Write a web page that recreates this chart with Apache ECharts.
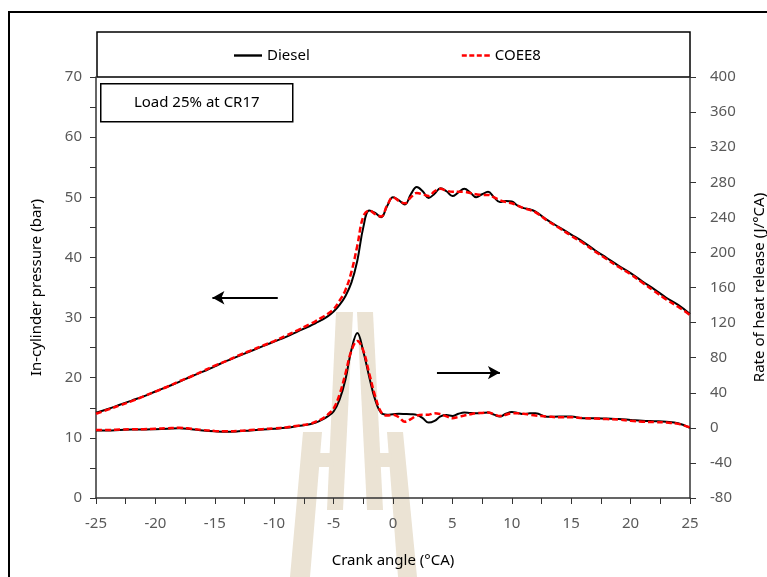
<!DOCTYPE html>
<html>
<head>
<meta charset="utf-8">
<script src="https://cdn.jsdelivr.net/npm/echarts@6/dist/echarts.min.js"></script>
<style>
  html, body { margin: 0; padding: 0; background: #fff; }
  #chart { width: 767px; height: 577px; }
</style>
</head>
<body>
<div id="chart"></div>
<script>
// crank angle (deg CA)
const angle = [
  -25, -24, -23, -22, -21, -20, -19, -18, -17, -16, -15, -14, -13, -12, -11, -10, -9, -8, -7,
  -6.5, -6, -5.5, -5, -4.5, -4, -3.5, -3, -2.5, -2, -1.5, -1, -0.5, 0, 0.5, 1, 1.5, 2, 2.5, 3,
  3.5, 4, 4.5, 5, 5.5, 6, 6.5, 7, 7.5, 8, 8.5, 9, 9.5, 10, 10.5, 11, 11.5, 12,
  13, 14, 15, 16, 17, 18, 19, 20, 21, 22, 23, 24, 25
];

// in-cylinder pressure (bar)
const pressureDiesel = [
  14.2, 14.8, 15.5, 16.2, 16.9, 17.7, 18.5, 19.3, 20.2, 21.0, 21.9, 22.8, 23.6, 24.4, 25.2, 26.0, 26.8, 27.7, 28.6,
  29.1, 29.6, 30.2, 31.0, 32.1, 33.6, 35.8, 39.5, 45.0, 47.8, 47.4, 46.7, 48.5, 50.0, 49.5, 48.8, 50.5, 51.7, 51.0, 49.9,
  50.6, 51.5, 51.0, 50.2, 50.8, 51.4, 50.8, 50.0, 50.5, 50.9, 50.0, 49.2, 49.4, 49.3, 48.6, 48.2, 48.0, 47.6,
  46.2, 45.0, 43.8, 42.6, 41.2, 39.9, 38.6, 37.4, 36.0, 34.7, 33.3, 32.1, 30.6
];
const pressureCOEE8 = [
  14.0, 14.7, 15.4, 16.1, 16.9, 17.7, 18.5, 19.4, 20.2, 21.1, 22.0, 22.8, 23.7, 24.5, 25.3, 26.1, 27.0, 27.9, 28.9,
  29.4, 30.0, 30.6, 31.4, 32.8, 34.6, 37.6, 42.0, 46.8, 47.8, 47.2, 46.8, 48.6, 50.0, 49.4, 49.0, 50.0, 50.7, 50.5, 50.2,
  51.0, 51.4, 51.1, 50.9, 50.9, 50.9, 50.7, 50.5, 50.4, 50.4, 50.0, 49.5, 49.2, 49.0, 48.6, 48.2, 47.9, 47.5,
  46.1, 44.9, 43.6, 42.4, 41.0, 39.7, 38.4, 37.2, 35.8, 34.4, 33.0, 31.8, 30.4
];

// rate of heat release (J/deg CA)
const hrrDiesel = [
  -3, -3, -2.5, -2, -2, -1.5, -1, -0.5, -1.5, -3, -4, -4.5, -4, -3, -2, -1, 0, 2, 4,
  6, 9, 13, 18.6, 32, 55, 89, 108, 87, 58, 32, 17, 15, 15.5, 16, 15.8, 15.5, 14.8, 11, 6,
  8, 13, 14.5, 13.5, 16, 17.5, 17, 16.7, 17, 17.5, 15, 12.9, 16, 18, 17, 15.8, 16.5, 16.7,
  12.5, 12.9, 12.9, 11, 11, 10.5, 10, 9, 8, 7.5, 7, 5.3, 0
];
const hrrCOEE8 = [
  -2.5, -2.5, -2, -1.5, -1.5, -1, -0.5, 0, -1, -2.5, -3.5, -4, -3.5, -2.5, -1.5, -0.5, 0.5, 2.5, 4.5,
  7, 10, 15, 22, 38, 62, 88, 99, 88, 62, 36, 18, 14, 14.8, 12, 7, 10, 14, 15, 15,
  16.7, 15.5, 13, 11, 12.5, 14, 15.5, 16.7, 17, 17.5, 15.5, 13.5, 15, 16.5, 16.5, 16, 15, 14,
  12.9, 12, 12, 11, 10.5, 10, 9.5, 8, 7, 6.5, 6, 4.5, 0.5
];

const font = 'Noto Sans';
const axisColor = '#333';
const labelColor = '#595959';

function pairs(ys) {
  return angle.map((a, i) => [a, ys[i]]);
}

const chart = echarts.init(document.getElementById('chart'));

const wm = '#ebe3d4';
const solidIcon = 'path://M0,0h28v2.4h-28z';
const dashIcon = 'path://M0,0h5v2.4h-5z M7.5,0h5v2.4h-5z M15,0h5v2.4h-5z M22.5,0h5.5v2.4h-5.5z';
chart.setOption({
  animation: false,
  textStyle: { fontFamily: font },
  grid: { left: 96, right: 77, top: 77, bottom: 79, outerBoundsMode: 'none', containLabel: false },
  legend: {
    left: 229,
    top: 43,
    itemWidth: 28,
    itemHeight: 2.4,
    itemGap: 152,
    textStyle: { fontSize: 15, color: '#000', fontFamily: font },
    data: [
      { name: 'Diesel', icon: solidIcon, itemStyle: { color: '#000' } },
      { name: 'COEE8', icon: dashIcon, itemStyle: { color: '#ff0000' } }
    ]
  },
  graphic: [
    { type: 'rect', z: -10, shape: { x: 9, y: 12, width: 800, height: 600 },
      style: { fill: null, stroke: '#000', lineWidth: 2 } },
    { type: 'rect', z: -10, shape: { x: 97, y: 32, width: 593, height: 45 },
      style: { fill: null, stroke: '#000', lineWidth: 1.5 } },
    { type: 'polygon', z: -10, shape: { points: [[336, 312], [353, 312], [343, 510], [327, 510]] }, style: { fill: wm } },
    { type: 'polygon', z: -10, shape: { points: [[357, 312], [373, 312], [383, 510], [367, 510]] }, style: { fill: wm } },
    { type: 'polygon', z: -10, shape: { points: [[303, 432], [322, 432], [310, 577], [290, 577]] }, style: { fill: wm } },
    { type: 'polygon', z: -10, shape: { points: [[387, 432], [403, 432], [417, 577], [398, 577]] }, style: { fill: wm } },
    { type: 'polygon', z: -10, shape: { points: [[318, 453], [334, 453], [333, 467], [316, 467]] }, style: { fill: wm } },
    { type: 'polygon', z: -10, shape: { points: [[376, 453], [391, 453], [392, 467], [377, 467]] }, style: { fill: wm } },
    { type: 'group', left: 100, top: 83, z: 10, children: [
      { type: 'rect', shape: { x: 0, y: 0, width: 192, height: 38 },
        style: { fill: '#fff', stroke: '#000', lineWidth: 1.5 } },
      { type: 'text', x: 96, y: 19,
        style: { text: 'Load 25% at CR17', fontSize: 15, fontFamily: font, fill: '#000',
                 align: 'center', verticalAlign: 'middle' } }
    ] }
  ],
  xAxis: {
    type: 'value',
    min: -25,
    max: 25,
    interval: 5,
    name: 'Crank angle (°CA)',
    nameLocation: 'middle',
    nameGap: 55,
    nameTextStyle: { fontSize: 15, color: '#000' },
    axisLine: { onZero: false, lineStyle: { color: axisColor, width: 1.5 } },
    axisTick: { length: 6, lineStyle: { color: axisColor } },
    minorTick: { show: true, splitNumber: 2, length: 6, lineStyle: { color: axisColor } },
    axisLabel: { fontSize: 15, color: labelColor, margin: 18 },
    splitLine: { show: false }
  },
  yAxis: [
    {
      type: 'value',
      min: 0,
      max: 70,
      interval: 10,
      name: 'In-cylinder pressure (bar)',
      nameLocation: 'middle',
      nameGap: 52,
      nameTextStyle: { fontSize: 15, color: '#000' },
      axisLine: { show: true, onZero: false, lineStyle: { color: axisColor, width: 1.5 } },
      axisTick: { show: true, length: 6, lineStyle: { color: axisColor } },
      minorTick: { show: true, splitNumber: 2, length: 6, lineStyle: { color: axisColor } },
      axisLabel: { fontSize: 15, color: labelColor, margin: 14 },
      splitLine: { show: false }
    },
    {
      type: 'value',
      position: 'right',
      min: -80,
      max: 400,
      interval: 40,
      name: 'Rate of heat release (J/°CA)',
      nameLocation: 'middle',
      nameGap: 62,
      nameRotate: 90,
      nameTextStyle: { fontSize: 15, color: '#000' },
      axisLine: { show: true, onZero: false, lineStyle: { color: axisColor, width: 1.5 } },
      axisTick: { show: true, length: 6, lineStyle: { color: axisColor } },
      axisLabel: { fontSize: 15, color: labelColor, margin: 20 },
      splitLine: { show: false }
    }
  ],
  series: [
    {
      name: 'Diesel', type: 'line', yAxisIndex: 0, smooth: 0.4, symbol: 'none',
      data: pairs(pressureDiesel),
      lineStyle: { color: '#000', width: 2 }, itemStyle: { color: '#000' },
      markLine: {
        silent: true, symbol: ['none', 'arrow'], symbolSize: [10, 12],
        label: { show: false },
        lineStyle: { color: '#000', width: 2, type: 'solid' },
        data: [[{ coord: [-9.7, 33.3] }, { coord: [-15.2, 33.3] }]]
      }
    },
    {
      name: 'Diesel', type: 'line', yAxisIndex: 1, smooth: 0.4, symbol: 'none',
      data: pairs(hrrDiesel),
      lineStyle: { color: '#000', width: 2 }, itemStyle: { color: '#000' },
      markLine: {
        silent: true, symbol: ['none', 'arrow'], symbolSize: [10, 12],
        label: { show: false },
        lineStyle: { color: '#000', width: 2, type: 'solid' },
        data: [[{ coord: [3.7, 63] }, { coord: [9.0, 63] }]]
      }
    },
    {
      name: 'COEE8', type: 'line', yAxisIndex: 0, smooth: 0.4, symbol: 'none',
      data: pairs(pressureCOEE8),
      lineStyle: { color: '#ff0000', width: 2.5, type: [6, 3] }, itemStyle: { color: '#ff0000' }
    },
    {
      name: 'COEE8', type: 'line', yAxisIndex: 1, smooth: 0.4, symbol: 'none',
      data: pairs(hrrCOEE8),
      lineStyle: { color: '#ff0000', width: 2.5, type: [6, 3] }, itemStyle: { color: '#ff0000' }
    }
  ]
});
</script>
</body>
</html>
